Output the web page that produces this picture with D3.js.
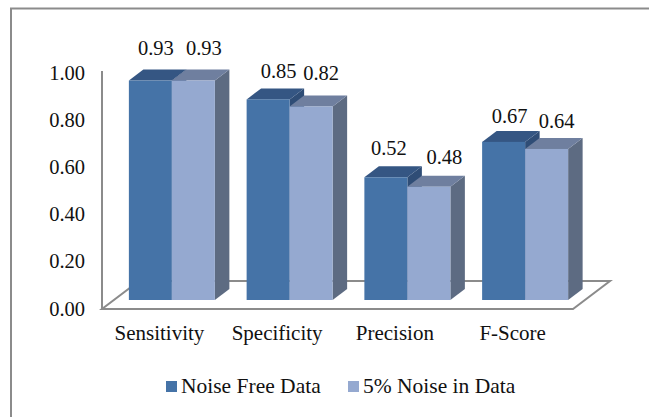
<!DOCTYPE html>
<html><head><meta charset="utf-8">
<style>html,body{margin:0;padding:0;background:#fff}svg{display:block}text{font-family:"Liberation Serif",serif;fill:#111}</style>
<script src="https://cdn.jsdelivr.net/npm/d3@7/dist/d3.min.js"></script>
</head><body><svg id="c" width="649" height="417"></svg>
<script>
const categories = ["Sensitivity","Specificity","Precision","F-Score"];
const noiseFree = [0.93,0.85,0.52,0.67];
const noisy = [0.93,0.82,0.48,0.64];
const seriesNames = ["Noise Free Data","5% Noise in Data"];
const yTicks = [0,0.2,0.4,0.6,0.8,1];
// layout-only label adjustments [dx, dy above front-top edge], per series per category
const nudgeA = [[5.5,26],[10.5,21.5],[3,22.5],[6,19]];
const nudgeB = [[10.5,26],[10,26.5],[15.5,22.5],[10,21]];

const FONT = 20.5, CAT_FONT = 21, LEG_FONT = 21.5;
const W = 649, H = 417;
const svg = d3.select("#c");
const x = d3.scaleBand().domain(categories).range([102,573]);
const y = d3.scaleLinear().domain([0,1]).range([308,72]);
const barW = 43, depthX = 14.5, depthY = 11, liftY = 8, shiftX = 11;
const gray = "#8b8b8b";

// chart frame
svg.append("path").attr("d",`M11,${H}V8.5H${W}`).attr("fill","none").attr("stroke",gray).attr("stroke-width",2);

// floor
const floorBack = 281, fx0 = 102, fx1 = 573, fy = 309, skew = 37;
svg.append("path").attr("d",`M${fx0},${fy}L${fx1},${fy}L${fx1+skew},${floorBack}L${fx0+skew},${floorBack}Z`)
  .attr("fill","#fff").attr("stroke",gray).attr("stroke-width",2);
// value axis wall line
svg.append("line").attr("x1",fx0).attr("x2",fx0).attr("y1",y(1)-1).attr("y2",fy).attr("stroke",gray).attr("stroke-width",2);

// bars
const palettes = [
  {front:"#4573A7",top:"#355683",side:"#2F4D76"},
  {front:"#95A9D0",top:"#6F7F9F",side:"#5D6B82"}
];
const seriesVals = [noiseFree,noisy];
const g = svg.append("g");
seriesVals.forEach((vals,s)=>{
  const p = palettes[s];
  const sg = g.append("g");
  categories.forEach((c,i)=>{
    const cx = x(c)+x.bandwidth()/2+shiftX;
    const xl = cx+(s-1)*barW, xr = xl+barW;
    const yt = y(vals[i])-liftY, yb = y(0)-liftY;
    sg.append("path").attr("d",`M${xr},${yt}L${xr+depthX},${yt-depthY}V${yb-depthY}L${xr},${yb}Z`).attr("fill",p.side);
    sg.append("path").attr("d",`M${xl},${yt}L${xl+depthX},${yt-depthY}H${xr+depthX}L${xr},${yt}Z`).attr("fill",p.top);
    sg.append("rect").attr("x",xl).attr("y",yt).attr("width",barW).attr("height",yb-yt).attr("fill",p.front);
  });
});

// data labels
seriesVals.forEach((vals,s)=>{
  const nudge = s===0?nudgeA:nudgeB;
  categories.forEach((c,i)=>{
    const cx = x(c)+x.bandwidth()/2+shiftX+(s-0.5)*barW;
    svg.append("text").attr("x",cx+nudge[i][0]).attr("y",y(vals[i])-liftY-nudge[i][1])
      .attr("text-anchor","middle").attr("font-size",FONT).text(d3.format(".2f")(vals[i]));
  });
});

// value axis
const ya = svg.append("g").attr("transform","translate(85,0)")
  .call(d3.axisLeft(y).tickValues(yTicks).tickFormat(d3.format(".2f")).tickSize(0).tickPadding(0));
ya.select(".domain").remove();
ya.selectAll("text").attr("font-size",FONT).attr("font-family",null).attr("dy",null).attr("y",7);

// category axis
const xa = svg.append("g").attr("transform","translate(0,340)")
  .call(d3.axisBottom(x).tickSize(0).tickPadding(0));
xa.select(".domain").remove();
xa.selectAll("text").attr("font-size",CAT_FONT).attr("font-family",null).attr("dy",null).attr("y",0).attr("dx",-1.5);

// legend
const legendX = [166,348];
seriesNames.forEach((n,i)=>{
  svg.append("rect").attr("x",legendX[i]).attr("y",381).attr("width",11).attr("height",11).attr("fill",palettes[i].front);
  svg.append("text").attr("x",legendX[i]+15).attr("y",392.5).attr("font-size",LEG_FONT).text(n);
});
</script></body></html>
